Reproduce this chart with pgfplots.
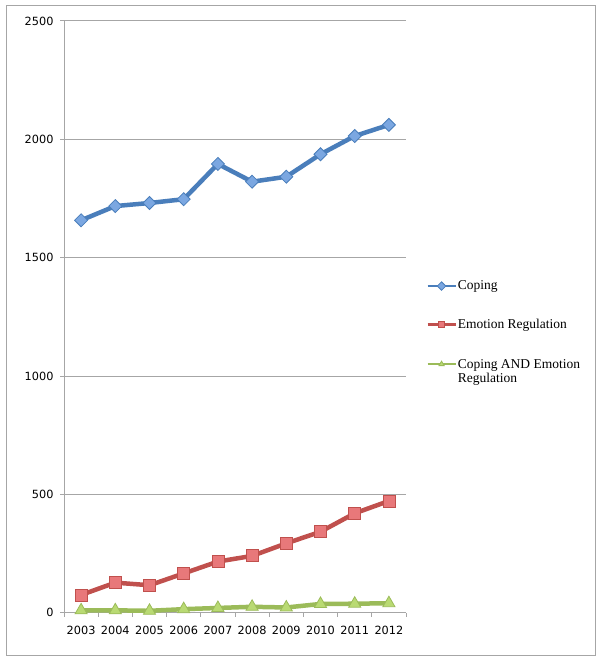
\documentclass[border=0pt]{standalone}
\usepackage{fontspec}
\setmainfont{Liberation Serif}
\newfontfamily\tickfont{DejaVu Sans}
\usepackage{pgfplots}
\pgfplotsset{compat=1.18}
\definecolor{cblue}{HTML}{4A7EBB}
\definecolor{cbluef}{HTML}{7BA7E1}
\definecolor{cred}{HTML}{C0504D}
\definecolor{credf}{HTML}{E8787A}
\definecolor{cgreen}{HTML}{9BBB59}
\definecolor{cgreenf}{HTML}{B9DA73}
\definecolor{gridc}{HTML}{A6A6A6}
\pgfplotstableread{
year coping emo both
2003 1658 75 10
2004 1718 127 10
2005 1731 116 8
2006 1747 166 15
2007 1896 216 20
2008 1821 240 25
2009 1842 293 22
2010 1937 342 37
2011 2014 420 38
2012 2061 472 40
}\datatable
\begin{document}
\begin{tikzpicture}[x=1pt,y=1pt]
\path (-64,-48.3) rectangle (537,612.7);
\draw[gridc, line width=1pt] (-57,-42.3) rectangle (531,606.7);
\begin{axis}[
  at={(0,0)}, anchor=south west, scale only axis,
  width=342pt, height=591.7pt,
  xmin=2002.5, xmax=2012.5, ymin=0, ymax=2500,
  axis x line*=bottom, axis y line*=left,
  axis line style={gridc, line width=1pt},
  xtick={2003,2004,2005,2006,2007,2008,2009,2010,2011,2012},
  major x tick style={draw=none},
  minor xtick={2002.5,2003.5,2004.5,2005.5,2006.5,2007.5,2008.5,2009.5,2010.5,2011.5,2012.5},
  minor x tick style={gridc, line width=1pt},
  minor tick length=4pt,
  major tick length=4pt,
  tick align=outside,
  ytick={0,500,1000,1500,2000,2500},
  ymajorgrids, grid style={gridc, line width=1pt},
  y tick style={gridc, line width=1pt},
  /pgf/number format/assume math mode=true,
  /pgf/number format/1000 sep={},
  tick label style={font=\tickfont\fontsize{11.3}{13}\selectfont, black},
  xticklabel style={yshift=-6pt},
  yticklabel style={xshift=-3pt},
  clip=false,
  legend style={draw=none, fill=none, at={(axis description cs:1.05,0.568)}, anchor=north west,
     font=\fontsize{13.5}{15}\selectfont, row sep=24pt, nodes={inner xsep=1pt}},
  legend cell align=left,
  legend image code/.code={
    \draw[line width=2.5pt, mark repeat=2, mark phase=2, mark size=3pt, #1]
      plot coordinates {(0pt,0pt) (14pt,0pt) (28pt,0pt)};
  },
]
\addplot[cblue, line width=4.5pt, mark=square*, mark size=4.6pt,
  mark options={rotate=45, fill=cbluef, draw=cblue, line width=0.8pt}]
  table[x=year, y=coping] {\datatable};
\addlegendentry{Coping}
\addplot[cred, line width=4.5pt, mark=square*, mark size=6pt,
  mark options={fill=credf, draw=cred, line width=0.8pt}]
  table[x=year, y=emo] {\datatable};
\addlegendentry{Emotion Regulation}
\addplot[cgreen, line width=4.5pt, mark=triangle*, mark size=7pt,
  mark options={fill=cgreenf, draw=cgreen, line width=0.8pt}]
  table[x=year, y=both] {\datatable};
\addlegendentry{\begin{tabular}[t]{@{}l@{}}Coping AND Emotion\\[-1pt]Regulation\end{tabular}}
\end{axis}
\end{tikzpicture}
\end{document}
